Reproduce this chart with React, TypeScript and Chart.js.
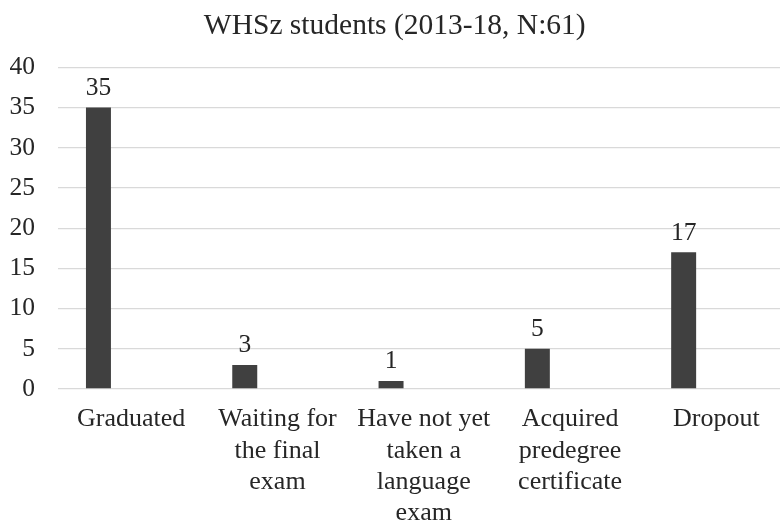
import React, { useEffect, useRef } from "react";
import { Chart, registerables } from "chart.js";

Chart.register(...registerables);

const TITLE = "WHSz students (2013-18, N:61)";
const categories: string[][] = [
  ["Graduated"],
  ["Waiting for", "the final", "exam"],
  ["Have not yet", "taken a", "language", "exam"],
  ["Acquired", "predegree", "certificate"],
  ["Dropout"],
];
const studentCounts: number[] = [35, 3, 1, 5, 17];
const emptySeries: (number | null)[] = [null, null, null, null, null];
const yMin = 0;
const yMax = 40;
const yStep = 5;

const FONT = "'Liberation Serif', 'Times New Roman', serif";
const TEXT = "#262626";

const valueLabels = {
  id: "valueLabels",
  afterDatasetsDraw(chart: any) {
    const ctx = chart.ctx;
    const meta = chart.getDatasetMeta(0);
    ctx.save();
    ctx.font = `25.5px ${FONT}`;
    ctx.fillStyle = TEXT;
    ctx.textAlign = "center";
    ctx.textBaseline = "alphabetic";
    meta.data.forEach((bar: any, i: number) => {
      const v = chart.data.datasets[0].data[i];
      ctx.fillText(String(v), bar.x, bar.y - 12.5);
    });
    ctx.restore();
  },
};

export default function App() {
  const ref = useRef<HTMLCanvasElement | null>(null);
  useEffect(() => {
    if (!ref.current) return;
    const chart = new Chart(ref.current, {
      type: "bar",
      data: {
        labels: categories,
        datasets: [
          {
            data: studentCounts,
            backgroundColor: "#404040",
            categoryPercentage: 0.894,
            barPercentage: 0.382,
          },
          {
            data: emptySeries as any,
            backgroundColor: "#a5a5a5",
            categoryPercentage: 0.894,
            barPercentage: 0.382,
          },
        ],
      },
      options: {
        responsive: false,
        animation: false,
        layout: { padding: { left: 0, right: 6.5, top: 0, bottom: 0 } },
        plugins: {
          legend: { display: false },
          tooltip: { enabled: false },
          title: {
            display: true,
            text: TITLE,
            color: TEXT,
            font: { family: FONT, size: 29.5, weight: "normal", lineHeight: 1.2 },
            padding: { top: 9, bottom: 23 },
          },
        },
        scales: {
          x: {
            grid: { display: false, drawTicks: false },
            border: { display: false },
            ticks: {
              color: TEXT,
              font: { family: FONT, size: 26, lineHeight: 1.2 },
              padding: 15,
              maxRotation: 0,
              autoSkip: false,
            },
            afterFit: (s: any) => {
              s.height = 133;
            },
          },
          y: {
            min: yMin,
            max: yMax,
            grid: { color: "#d9d9d9", lineWidth: 1.3, drawTicks: false },
            border: { display: false },
            ticks: {
              stepSize: yStep,
              color: TEXT,
              font: { family: FONT, size: 25.5 },
              padding: 23,
            },
            afterFit: (s: any) => {
              s.width = 58;
            },
          },
        },
      },
      plugins: [valueLabels],
    });
    return () => chart.destroy();
  }, []);
  return (
    <div
      style={{
        position: "fixed",
        left: 0,
        top: 0,
        width: 780,
        height: 522,
        overflow: "hidden",
        background: "#fff",
      }}
    >
      <canvas ref={ref} width={796} height={522} style={{ display: "block" }} />
    </div>
  );
}
